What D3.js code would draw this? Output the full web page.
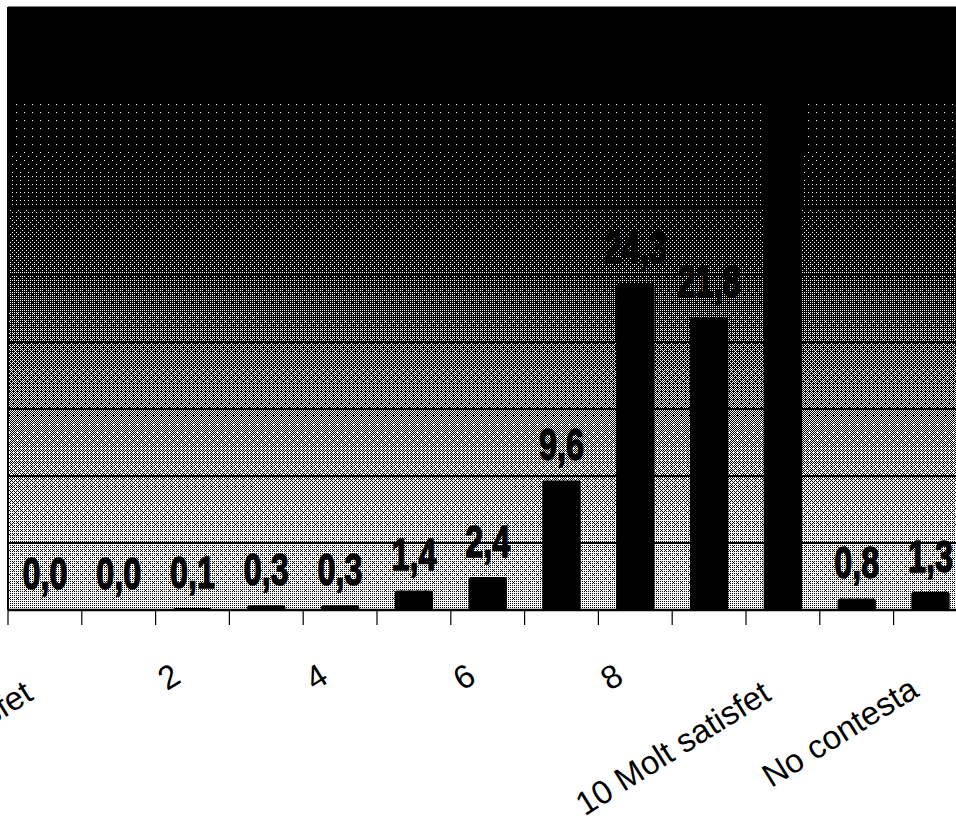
<!DOCTYPE html>
<html>
<head>
<meta charset="utf-8">
<script src="https://cdn.jsdelivr.net/npm/d3@7"></script>
<style>
  body { margin: 0; background: #fff; }
  svg { display: block; }
</style>
</head>
<body>
<script>
let categories = ["0 Gens satisfet", "1", "2", "3", "4", "5", "6", "7", "8", "9", "10 Molt satisfet", "No ho sap", "No contesta"];
let values = [0.0, 0.0, 0.1, 0.3, 0.3, 1.4, 2.4, 9.6, 24.3, 21.8, 38.0, 0.8, 1.3];
let gridValues = [5, 10, 15, 20, 25, 30, 35, 40];
let shownLabels = categories.filter(function(d, i) { return i % 2 === 0; });

let width = 956, height = 826;
let plotLeft = 8, plotTop = 7, plotBottom = 610, step = 73.8;
let plotRight = plotLeft + categories.length * step;

let svg = d3.select("body").append("svg").attr("width", width).attr("height", height);

let x = d3.scaleBand().domain(categories).range([plotLeft, plotRight]).paddingInner(0.5).paddingOuter(0.25);
let y = d3.scaleLinear().domain([0, 45]).range([plotBottom, plotTop]);

let defs = svg.append("defs");

// background shade (share of white dots), dark at top, light at bottom
let shade = [[0, 0], [0.12, 0], [0.22, 0.012], [0.32, 0.05], [0.444, 0.17], [0.552, 0.33], [0.668, 0.48], [0.781, 0.6], [0.892, 0.7], [1, 0.74]];
let grad = defs.append("linearGradient").attr("id", "bg").attr("x1", 0).attr("y1", 0).attr("x2", 0).attr("y2", 1);
shade.forEach(function(s) {
    let g = Math.round(s[1] * 255);
    grad.append("stop").attr("offset", s[0]).attr("stop-color", "rgb(" + g + "," + g + "," + g + ")");
});

// ordered dither (8x8 Bayer) to get the scanned look
let bayer = [
    [0, 32, 8, 40, 2, 34, 10, 42],
    [48, 16, 56, 24, 50, 18, 58, 26],
    [12, 44, 4, 36, 14, 46, 6, 38],
    [60, 28, 52, 20, 62, 30, 54, 22],
    [3, 35, 11, 43, 1, 33, 9, 41],
    [51, 19, 59, 27, 49, 17, 57, 25],
    [15, 47, 7, 39, 13, 45, 5, 37],
    [63, 31, 55, 23, 61, 29, 53, 21]
];
let pat = defs.append("pattern").attr("id", "bayer").attr("patternUnits", "userSpaceOnUse")
    .attr("x", 0).attr("y", 0).attr("width", 8).attr("height", 8);
bayer.forEach(function(row, r) {
    row.forEach(function(b, c) {
        let g = Math.round((1 - (b + 0.5) / 64) * 255);
        pat.append("rect").attr("x", c).attr("y", r).attr("width", 1).attr("height", 1)
            .attr("fill", "rgb(" + g + "," + g + "," + g + ")");
    });
});
let f = defs.append("filter").attr("id", "dither").attr("filterUnits", "userSpaceOnUse")
    .attr("x", plotLeft).attr("y", plotTop).attr("width", plotRight - plotLeft).attr("height", plotBottom - plotTop)
    .attr("color-interpolation-filters", "sRGB");
let th = f.append("feComponentTransfer");
["feFuncR", "feFuncG", "feFuncB"].forEach(function(c) {
    th.append(c).attr("type", "discrete").attr("tableValues", "0 1");
});

// plot area
let bgGroup = svg.append("g").attr("filter", "url(#dither)");
bgGroup.append("rect").attr("x", plotLeft).attr("y", plotTop).attr("width", plotRight - plotLeft).attr("height", plotBottom - plotTop)
    .attr("fill", "url(#bg)");
bgGroup.append("rect").attr("x", plotLeft).attr("y", plotTop).attr("width", plotRight - plotLeft).attr("height", plotBottom - plotTop)
    .attr("fill", "url(#bayer)").attr("opacity", 0.5);

svg.selectAll("line.grid").data(gridValues).enter().append("line").attr("class", "grid")
    .attr("x1", plotLeft).attr("x2", plotRight)
    .attr("y1", function(d) { return y(d); }).attr("y2", function(d) { return y(d); })
    .attr("stroke", "#000").attr("stroke-width", 2);

svg.append("line").attr("x1", plotLeft).attr("x2", plotLeft).attr("y1", plotTop).attr("y2", plotBottom).attr("stroke", "#000").attr("stroke-width", 2);
svg.append("line").attr("x1", plotLeft).attr("x2", plotRight).attr("y1", plotTop).attr("y2", plotTop).attr("stroke", "#000").attr("stroke-width", 1);

// bars
svg.selectAll("rect.bar").data(values).enter().append("rect").attr("class", "bar")
    .attr("x", function(d, i) { return x(categories[i]); })
    .attr("width", x.bandwidth())
    .attr("y", function(d) { return y(d); })
    .attr("height", function(d) { return plotBottom - y(d); })
    .attr("rx", 2)
    .attr("fill", "#000").attr("stroke", "#000").attr("stroke-width", 1.5);

// value labels
let fmt = d3.format(".1f");
svg.selectAll("g.val").data(values).enter().append("g").attr("class", "val")
    .attr("transform", function(d, i) {
        return "translate(" + (x(categories[i]) + x.bandwidth() / 2) + "," + (y(d) - 21) + ") scale(0.72,1)";
    })
    .append("text").attr("text-anchor", "middle")
    .attr("font-family", "'Liberation Sans', Arial, sans-serif").attr("font-weight", "bold").attr("font-size", 45)
    .attr("fill", "#000").attr("stroke", "#000").attr("stroke-width", 1.4)
    .text(function(d) { return fmt(d).replace(".", ","); });

// x axis line and ticks at category boundaries
svg.append("line").attr("x1", plotLeft).attr("x2", plotRight).attr("y1", plotBottom).attr("y2", plotBottom).attr("stroke", "#000").attr("stroke-width", 2.5);
svg.selectAll("line.tick").data(categories).enter().append("line").attr("class", "tick")
    .attr("x1", function(d) { return x(d) + x.bandwidth() / 2 - x.step() / 2; })
    .attr("x2", function(d) { return x(d) + x.bandwidth() / 2 - x.step() / 2; })
    .attr("y1", plotBottom).attr("y2", plotBottom + 15)
    .attr("stroke", "#000").attr("stroke-width", 1.2);

// rotated category labels, end of text under the tick
let cats = svg.selectAll("text.cat").data(shownLabels).enter().append("text").attr("class", "cat")
    .attr("text-anchor", "end")
    .attr("font-family", "'Liberation Sans', Arial, sans-serif").attr("font-size", 33)
    .attr("fill", "#000")
    .text(function(d) { return d; });
cats.attr("transform", function(d) {
    let len = this.getComputedTextLength();
    return "translate(" + (x(d) + x.bandwidth() / 2 - 10) + "," + (680 + 0.085 * len) + ") rotate(-32)";
});
</script>
</body>
</html>
